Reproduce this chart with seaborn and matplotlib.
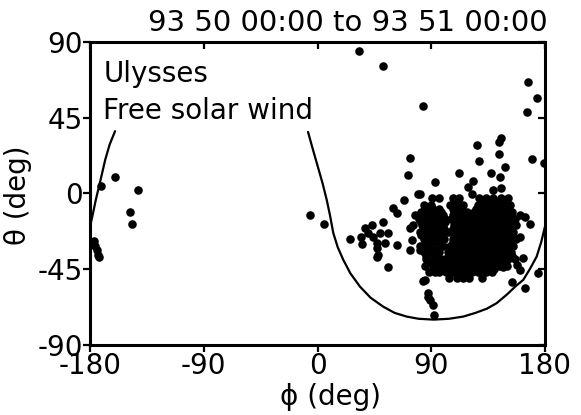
import matplotlib
matplotlib.use("Agg")
import matplotlib.pyplot as plt
import seaborn as sns
import pandas as pd

# Ulysses free solar wind arrival directions (phi, theta in degrees)
scattered_phi = [
    -171.5, -160.2, -142.0, -148.3, -147.0, -176.8, -176.0, -174.4, -173.6, -172.8,
    -5.9, 5.1,
    32.8, 51.8, 83.5, 166.5, 173.7, 165.7,
    126.2, 145.2, 143.6, 143.6, 127.8, 148.3, 137.3, 144.4, 169.7, 179.5,
    112.0, 93.0, 123.0, 119.1, 122.2, 145.2, 138.8, 90.6, 96.1, 81.1,
    73.2, 71.6, 79.5, 68.4, 59.7, 62.9,
    25.7, 34.4, 35.2, 40.0, 43.1, 49.4, 47.1, 55.8, 62.9, 47.9, 55.8,
    75.6, 74.8, 73.2, 81.1, 77.1, 73.2, 51.8, 37.6, 43.9, 53.4, 47.1, 47.1,
    83.5, 87.4, 85.1, 87.4, 89.0, 91.4, 92.2,
    153.9, 164.2, 174.4, 168.1, 164.2, 160.2, 162.6, 160.2, 146.8, 110.4,
    157.8, 160.2,
]
scattered_theta = [
    4.5, 9.8, 2.1, -11.0, -18.1, -28.2, -31.2, -33.6, -36.5, -37.7,
    -12.8, -18.1,
    84.7, 75.7, 52.0, 66.3, 56.7, 48.4,
    28.8, 33.0, 30.6, 23.5, 19.3, 15.7, 12.2, 9.8, 20.5, 18.1,
    12.2, 6.8, 7.4, 3.9, -0.3, 3.3, 2.1, -2.7, -2.7, -0.3,
    21.1, 11.0, -0.3, -3.9, -8.6, -11.6,
    -27.0, -25.8, -30.0, -23.5, -18.7, -23.5, -29.4, -23.5, -30.6, -36.5, -43.7,
    -18.7, -27.6, -33.6, -33.6, -12.8, -20.5, -16.9, -20.5, -25.8, -29.4, -32.4, -37.7,
    -52.0, -61.5, -51.4, -59.1, -63.3, -66.3, -72.2,
    -52.6, -56.1, -47.2, -18.1, -14.0, -12.8, -38.3, -45.5, -43.7, -50.2,
    -42.5, -25.8,
]

# Dense group near phi ~ 90
core_a_phi = [
    84, 90,
    85, 91, 96,
    82, 87, 93, 98,
    83, 88, 93, 99,
    80, 85, 90, 96, 101,
    82, 86, 91, 96, 101,
    83, 88, 93, 99,
    84, 89, 95, 100,
    81, 86, 91, 97, 102,
    82, 87, 92, 98,
    84, 89, 95, 100,
    85, 91, 96,
    81, 87, 99,
    83, 89, 94,
    84, 90, 96,
    86, 92,
    86, 92, 98,
    88, 94,
    85, 91, 96,
    88, 93,
]
core_a_theta = (
    [-7] * 2 + [-9] * 3 + [-11] * 4 + [-13] * 4 + [-15] * 5 + [-17] * 5
    + [-19] * 4 + [-21] * 4 + [-23] * 5 + [-25] * 4 + [-27] * 4 + [-29] * 3
    + [-31] * 3 + [-33] * 3 + [-35] * 3 + [-37] * 2 + [-39] * 3 + [-41] * 2
    + [-43] * 3 + [-47] * 2
)

# Dense group near phi ~ 130
core_b_phi = [
    107, 112, 128, 133, 139, 145, 151,
    109.5, 130.5, 135.5, 141.5, 147.5,
    105, 110, 115, 127, 132, 137, 142, 147, 152,
    107.5, 112.5, 125.5, 130.5, 135.5, 140.5, 145.5, 150.5,
    108, 113, 118, 124, 129, 134, 139, 144, 149, 154,
    107.5, 113.5, 118.5, 123.5, 128.5, 133.5, 138.5, 143.5, 148.5, 153.5,
    106, 111, 116, 121, 126, 131, 136, 141, 146, 151, 156,
    109, 114, 119, 124, 129, 134, 139, 144, 149, 154,
    108, 113, 118, 123, 128, 133, 138, 143, 148, 153, 157,
    107, 112, 117, 122, 127, 132, 137, 142, 147, 152,
    104, 110, 115, 120, 125, 130, 135, 140, 145, 150, 155,
    109, 114, 119, 124, 129, 134, 139, 144, 149, 154,
    107, 112, 117, 122, 127, 132, 137, 142, 147, 152, 157,
    107, 112, 117, 122, 127, 132, 137, 142, 147, 152,
    105, 110, 115, 120, 125, 130, 135, 140, 145, 150, 155,
    106, 111, 116, 121, 126, 131, 136, 141, 146, 151,
    103, 108, 113, 118, 123, 128, 133, 138, 143, 148, 153,
    104, 109, 114, 119, 124, 129, 134, 139, 144, 149, 154,
    101, 106, 111, 116, 121, 126, 131, 136, 141, 146, 151, 156,
    102, 107, 112, 117, 122, 127, 132, 137, 142, 147,
    100, 104, 109, 114, 119, 124, 129, 134, 139, 144, 150,
    100, 105, 110, 115, 120, 125, 130, 135, 140,
    96, 102, 107, 112, 117, 122, 127, 133, 138,
    104, 115, 120, 130,
]
core_b_theta = (
    [-3] * 7 + [-5] * 5 + [-7] * 9 + [-9] * 8 + [-11] * 10 + [-13] * 10
    + [-15] * 11 + [-17] * 10 + [-19] * 11 + [-21] * 10 + [-23] * 11
    + [-25] * 10 + [-27] * 11 + [-29] * 10 + [-31] * 11 + [-33] * 10
    + [-35] * 11 + [-37] * 11 + [-39] * 12 + [-41] * 10 + [-43] * 11
    + [-45] * 9 + [-47] * 9 + [-50] * 4
)

# Boundary of the free solar wind region (wraps around phi = +/-180)
boundary_phi = [-7.5, -4.0, 0.0, 4.0, 7.3, 10.0, 12.5, 16.0, 20.4, 26.0, 33.6, 42.0,
                52.0, 61.0, 70.6, 80.0, 92.0, 104.0, 115.3, 125.0, 134.0, 141.8,
                150.0, 157.0, 162.8, 168.0, 173.4, 177.0, 180.0]
boundary_theta = [36.5, 27.0, 16.5, 6.0, -3.9, -13.5, -23.6, -32.0, -39.5, -47.5, -55.4,
                  -62.0, -67.3, -71.0, -73.2, -74.5, -75.0, -74.5, -73.2, -71.0, -68.5,
                  -65.2, -60.0, -55.0, -51.4, -45.0, -37.6, -29.0, -19.7]
boundary_wrap_phi = [-180.0, -178.0, -175.5, -172.0, -168.0, -164.5, -160.2]
boundary_wrap_theta = [-19.7, -13.0, -4.0, 7.0, 20.0, 29.0, 37.0]

x_ticks = [-180, -90, 0, 90, 180]
y_ticks = [-90, -45, 0, 45, 90]

sns.set_theme(style="white")
plt.rcParams["font.family"] = ["DejaVu Sans"]
plt.rcParams["text.color"] = "black"
plt.rcParams["axes.labelcolor"] = "black"
plt.rcParams["xtick.color"] = "black"
plt.rcParams["ytick.color"] = "black"

points = pd.DataFrame({
    "phi": scattered_phi + core_a_phi + core_b_phi,
    "theta": scattered_theta + core_a_theta + core_b_theta,
})
edge_main = pd.DataFrame({"phi": boundary_phi, "theta": boundary_theta})
edge_wrap = pd.DataFrame({"phi": boundary_wrap_phi, "theta": boundary_wrap_theta})

fig = plt.figure(figsize=(5.81, 4.15), dpi=100)
ax = fig.add_axes([0.155, 0.169, 0.783, 0.730])

sns.scatterplot(data=points, x="phi", y="theta", ax=ax, color="black",
                s=38, linewidth=0, clip_on=True)
sns.lineplot(data=edge_main, x="phi", y="theta", ax=ax, color="black",
             sort=False, lw=1.6, estimator=None)
sns.lineplot(data=edge_wrap, x="phi", y="theta", ax=ax, color="black",
             sort=False, lw=1.6, estimator=None)

ax.set_xlim(-180, 180)
ax.set_ylim(-90, 90)
ax.set_xticks(x_ticks)
ax.set_yticks(y_ticks)
ax.set_xticklabels([str(v) for v in x_ticks])
ax.set_yticklabels([str(v) for v in y_ticks])

for side in ax.spines.values():
    side.set_color("black")
    side.set_linewidth(2.2)

ax.tick_params(axis="both", which="both", colors="black", labelcolor="black",
               labelsize=20, length=5, width=1.6, pad=0)
ax.tick_params(axis="x", direction="out", top=True, bottom=True)
ax.tick_params(axis="y", direction="out", left=True, right=True)
# inward ticks on the top and right edges
for t in ax.xaxis.get_major_ticks():
    t.tick2line.set_marker(3)  # TICKDOWN
for t in ax.yaxis.get_major_ticks():
    t.tick2line.set_marker(0)  # TICKLEFT

ax.set_xlabel("")
ax.set_ylabel("")
fig.text(330 / 581, 1 - 405 / 415, "\u03d5 (deg)", fontsize=20, ha="center",
         va="baseline", color="black")
fig.text(32 / 581, 1 - 195 / 415, "\u03b8 (deg)", fontsize=20, ha="right",
         va="center", rotation=90, color="black")
fig.text(348 / 581, 1 - 31 / 415, "93 50 00:00 to 93 51 00:00", fontsize=21,
         ha="center", va="baseline", color="black")

ax.text(0.029, 0.868, "Ulysses", transform=ax.transAxes, fontsize=20,
        ha="left", va="baseline", color="black")
ax.text(0.029, 0.746, "Free solar wind", transform=ax.transAxes, fontsize=20,
        ha="left", va="baseline", color="black")

fig.savefig("out.png", dpi=100, facecolor="white")
